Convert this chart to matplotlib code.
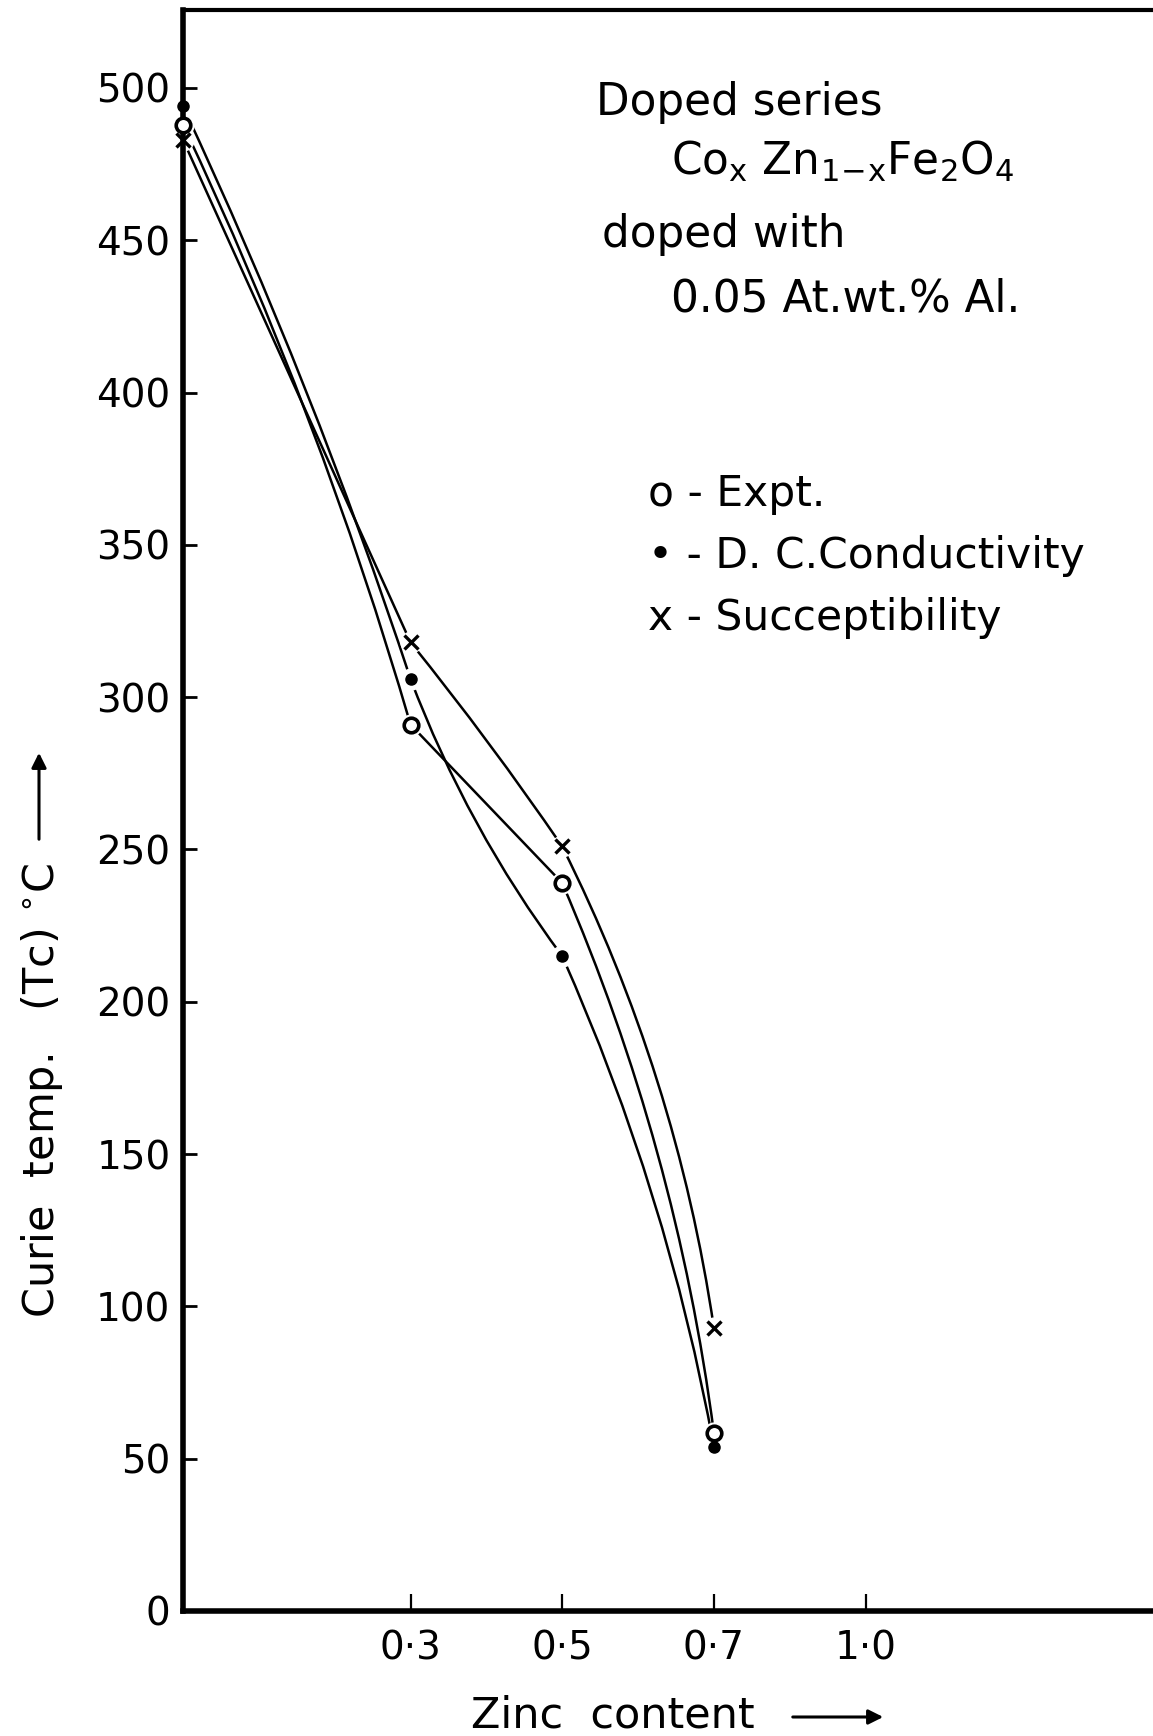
import numpy as np
import matplotlib
matplotlib.use('Agg')
from matplotlib import pyplot as plt
from matplotlib.path import Path
from matplotlib.patches import PathPatch, FancyArrowPatch

# zinc content and Curie temperature (deg C)
zinc = [0.0, 0.3, 0.5, 0.7]
tc_expt = [488, 291, 239, 58.5]
tc_dc = [494, 306, 215, 54]
tc_susc = [483, 318, 251, 93]

x_ticks = [0.3, 0.5, 0.7, 0.9]
x_tick_labels = ['0·3', '0·5', '0·7', '1·0']
y_ticks = list(range(0, 501, 50))

W, H = 1153, 1736
plt.rcParams['font.family'] = 'DejaVu Sans'
plt.rcParams['mathtext.fontset'] = 'dejavusans'


def fx(px):
    return px / W


def fy(py):
    return 1 - py / H


def hand_curve(ax, xs, ys, bends, **kw):
    # quadratic bezier per segment, bowed sideways by a fraction of the chord
    pts = ax.transData.transform(np.column_stack([xs, ys]))
    verts, codes = [pts[0]], [Path.MOVETO]
    for p0, p1, b in zip(pts[:-1], pts[1:], bends):
        d = p1 - p0
        ctrl = (p0 + p1) / 2 + b * np.array([-d[1], d[0]])
        verts += [ctrl, p1]
        codes += [Path.CURVE3, Path.CURVE3]
    verts = ax.transData.inverted().transform(np.array(verts))
    ax.add_patch(PathPatch(Path(verts, codes), fill=False, **kw))


def main():
    fig = plt.figure(figsize=(W / 100, H / 100), dpi=100)
    ax = fig.add_axes([fx(183), fy(1611), fx(1153 - 183), (1611 - 10) / H])
    ax.set_xlim(0, 1.279)
    ax.set_ylim(0, 525.6)

    ax.spines['right'].set_visible(False)
    ax.spines['left'].set_linewidth(4)
    ax.spines['bottom'].set_linewidth(4)
    ax.spines['top'].set_linewidth(3)

    ax.set_yticks(y_ticks)
    ax.set_yticklabels([str(v) for v in y_ticks])
    ax.set_xticks(x_ticks)
    ax.set_xticklabels(x_tick_labels)
    ax.tick_params(axis='y', direction='in', length=10, width=2, pad=9, labelsize=28)
    ax.tick_params(axis='x', direction='in', length=12, width=1.6, pad=13, labelsize=28)
    ax.tick_params(top=False, right=False)

    series = [
        (tc_expt, [0.04, 0.0, 0.07]),
        (tc_dc, [0.03, -0.07, 0.06]),
        (tc_susc, [0.0, 0.02, 0.08]),
    ]
    for tc, bends in series:
        hand_curve(ax, zinc, tc, bends, lw=1.8, edgecolor='black', zorder=2)

    # small white gaps where the pen stopped short of the marks
    for tc in [tc_expt, tc_dc, tc_susc]:
        ax.plot(zinc, tc, ls='none', marker='o', ms=15, mfc='white', mec='white',
                zorder=2.2, clip_on=False)

    ax.plot(zinc, tc_expt, ls='none', marker='o', ms=10.5, mfc='white', mec='black',
            mew=2.6, zorder=3, clip_on=False)
    ax.plot(zinc, tc_dc, ls='none', marker='o', ms=8, mfc='black', mec='black',
            zorder=3, clip_on=False)
    ax.plot(zinc, tc_susc, ls='none', marker='x', ms=10, mec='black', mew=2.4,
            zorder=3, clip_on=False)

    fs = 30.5
    fig.text(fx(596), fy(115), 'Doped series', fontsize=fs + 1, va='baseline')
    fig.text(fx(671), fy(175), r'Co$_{\rm x}$ Zn$_{\rm 1\!-\!x}$Fe$_{\rm 2}$O$_{\rm 4}$',
             fontsize=fs + 1, va='baseline')
    fig.text(fx(602), fy(247), 'doped with', fontsize=fs + 1, va='baseline')
    fig.text(fx(671), fy(312), '0.05 At.wt.% Al.', fontsize=fs + 1, va='baseline')

    fig.text(fx(648), fy(506), 'o - Expt.', fontsize=fs, va='baseline')
    fig.text(fx(648), fy(568), '• - D. C.Conductivity', fontsize=fs, va='baseline')
    fig.text(fx(648), fy(630), 'x - Succeptibility', fontsize=fs, va='baseline')

    fig.text(fx(42), fy(1318), r'Curie  temp.   (Tc) $^{\circ}$C', fontsize=31,
             rotation=90, ha='center', va='bottom')
    fig.text(fx(471), fy(1716), 'Zinc  content', fontsize=31, va='center')

    arrow = dict(arrowstyle='-|>', lw=2.2, color='black', mutation_scale=22)
    fig.add_artist(FancyArrowPatch(
        (fx(39), fy(842)), (fx(39), fy(750)), transform=fig.transFigure, **arrow))
    fig.add_artist(FancyArrowPatch(
        (fx(790), fy(1717)), (fx(886), fy(1717)), transform=fig.transFigure, **arrow))

    fig.savefig('out.png', dpi=100)


if __name__ == '__main__':
    main()
